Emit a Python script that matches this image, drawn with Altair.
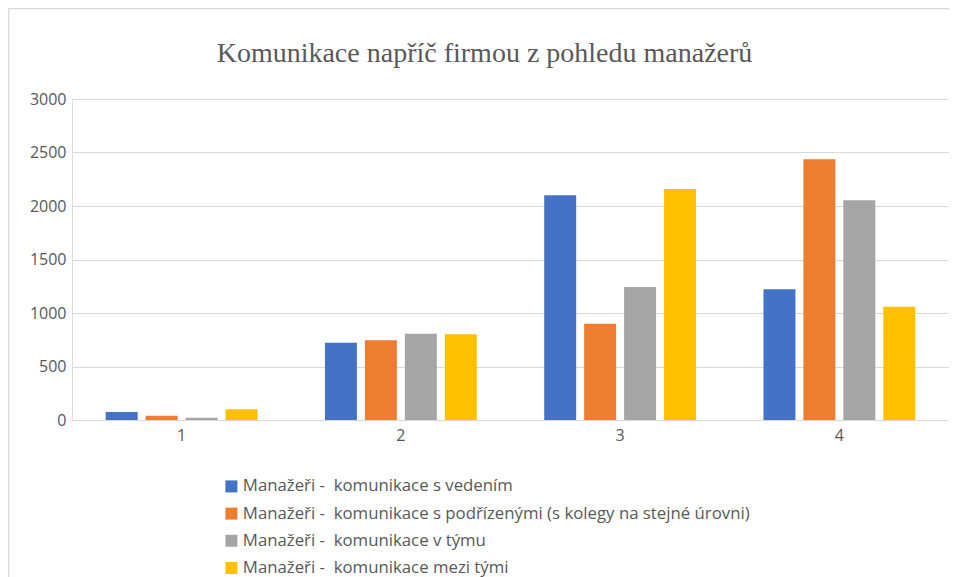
import altair as alt
import pandas as pd

categories = ["1", "2", "3", "4"]
series = [
    "Manažeři - \u00a0komunikace s vedením",
    "Manažeři - \u00a0komunikace s podřízenými (s kolegy na stejné úrovni)",
    "Manažeři - \u00a0komunikace v týmu",
    "Manažeři - \u00a0komunikace mezi tými",
]
colors = ["#4472C4", "#ED7D31", "#A5A5A5", "#FFC000"]
vals_vedeni = [75, 722, 2100, 1221]
vals_podrizeni = [40, 745, 900, 2436]
vals_tym = [20, 807, 1243, 2053]
vals_mezi = [100, 801, 2159, 1059]
y_ticks = [0, 500, 1000, 1500, 2000, 2500, 3000]
title_text = "Komunikace napříč firmou z pohledu manažerů"

all_vals = [vals_vedeni, vals_podrizeni, vals_tym, vals_mezi]
rows = []
for si, s in enumerate(series):
    for ci, c in enumerate(categories):
        rows.append({"kategorie": c, "serie": s, "hodnota": all_vals[si][ci]})
df = pd.DataFrame(rows)

FONT = "Open Sans"
GREY = "#595959"

bars = alt.Chart(df).mark_bar().encode(
    x=alt.X("kategorie:N", sort=categories, title=None,
            scale=alt.Scale(paddingInner=0, paddingOuter=0),
            axis=alt.Axis(labelAngle=0, domain=False, ticks=False, labelPadding=7,
                          labelFont=FONT, labelFontSize=16, labelColor=GREY)),
    xOffset=alt.XOffset("serie:N", sort=series,
                        scale=alt.Scale(paddingInner=0.2, paddingOuter=0.84375)),
    y=alt.Y("hodnota:Q", title=None,
            scale=alt.Scale(domain=[0, 3000], nice=False),
            axis=alt.Axis(values=y_ticks, format="d",
                          domain=False, ticks=False, labelPadding=6,
                          grid=True, gridColor="#D9D9D9", gridWidth=1.2,
                          labelFont=FONT, labelFontSize=16, labelColor=GREY)),
    color=alt.Color("serie:N", sort=series, title=None,
                    scale=alt.Scale(domain=series, range=colors),
                    legend=alt.Legend(orient="none", legendX=151, legendY=379,
                                      symbolType="square", symbolSize=144,
                                      symbolStrokeWidth=0, labelFont=FONT,
                                      labelFontSize=16.8, labelColor=GREY,
                                      labelLimit=800, rowPadding=9.2,
                                      labelOffset=3, padding=0)),
)

title_df = pd.DataFrame({"t": [title_text]})
title_mark = alt.Chart(title_df).mark_text(
    font="Liberation Serif", fontSize=28, color=GREY, align="center",
    baseline="alphabetic").encode(
    text="t:N", x=alt.value(412.5), y=alt.value(-37))

frame_df = pd.DataFrame({"k": [0]})
left_border = alt.Chart(frame_df).mark_rule(color="#D9D9D9", strokeWidth=1.5).encode(
    x=alt.value(-63.5), y=alt.value(-90.5), y2=alt.value(490))
top_border = alt.Chart(frame_df).mark_rule(color="#D9D9D9", strokeWidth=1.5).encode(
    x=alt.value(-63.5), x2=alt.value(900), y=alt.value(-90.5))

chart = alt.layer(bars, title_mark, left_border, top_border).properties(
    width=877, height=321,
    autosize=alt.AutoSizeParams(type="none"),
    padding={"left": 64, "top": 91, "right": 0, "bottom": 162},
).configure_view(stroke=None).configure(background="white")

chart.save("out.html", embed_options={"renderer": "svg", "actions": False})
